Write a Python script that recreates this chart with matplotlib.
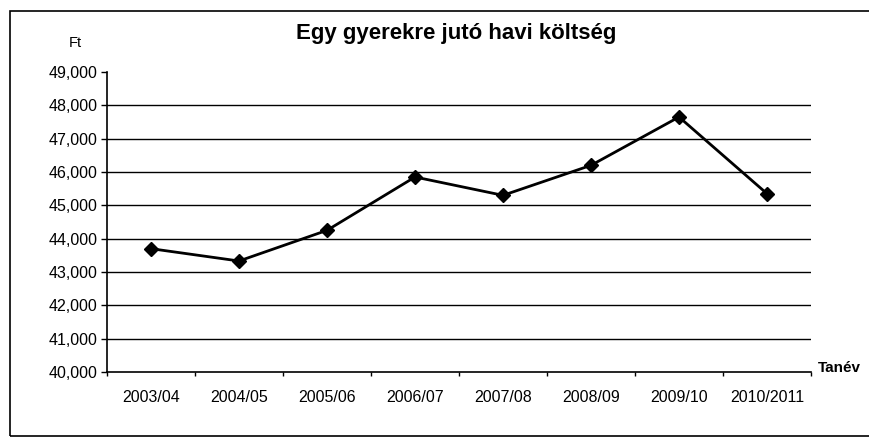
import matplotlib.pyplot as plt
from matplotlib.patches import Rectangle
import numpy as np

plt.rcParams['font.family'] = ['Liberation Sans', 'DejaVu Sans']

tanev = ["2003/04", "2004/05", "2005/06", "2006/07", "2007/08", "2008/09", "2009/10", "2010/2011"]
koltseg = [43700, 43330, 44250, 45850, 45300, 46200, 47650, 45350]
y_ticks = [40000, 41000, 42000, 43000, 44000, 45000, 46000, 47000, 48000, 49000]

fig = plt.figure(figsize=(8.69, 4.43), dpi=100)
ax = fig.add_axes([107 / 869, 1 - 372 / 443, (811 - 107) / 869, (372 - 72) / 443])

x = np.arange(len(tanev))
ax.plot(x, koltseg, color="black", linewidth=2, marker="D", markersize=7, zorder=3)

ax.set_xlim(-0.5, len(tanev) - 0.5)
ax.set_ylim(40000, 49000)
ax.set_yticks(y_ticks)
ax.set_yticklabels([f"{v:,}" for v in y_ticks], fontsize=11.5)
ax.set_xticks(x)
ax.set_xticklabels(tanev, fontsize=11.5)
ax.set_xticks(np.arange(-0.5, len(tanev)), minor=True)
ax.tick_params(axis="x", which="major", length=0, pad=13)
ax.tick_params(axis="x", which="minor", length=3, direction="out", width=1)
ax.tick_params(axis="y", length=4, width=1, pad=3)

for v in y_ticks[1:-1]:
    ax.axhline(v, color="black", linewidth=1, zorder=1)

ax.spines["top"].set_visible(False)
ax.spines["right"].set_visible(False)
ax.spines["left"].set_linewidth(1.2)
ax.spines["bottom"].set_linewidth(1.2)

fig.text(456 / 869, 1 - 33 / 443, "Egy gyerekre jutó havi költség", ha="center", va="center",
         fontsize=16, fontweight="bold")
fig.text(75 / 869, 1 - 43 / 443, "Ft", ha="center", va="center", fontsize=10.5)
fig.text(839 / 869, 1 - 368 / 443, "Tanév", ha="center", va="center", fontsize=11, fontweight="bold")

fig.patches.append(Rectangle((10 / 869, 1 - 436 / 443), 900 / 869, (436 - 11) / 443,
                             transform=fig.transFigure, fill=False, edgecolor="black", linewidth=1.2))

fig.savefig("out.png", dpi=100)
